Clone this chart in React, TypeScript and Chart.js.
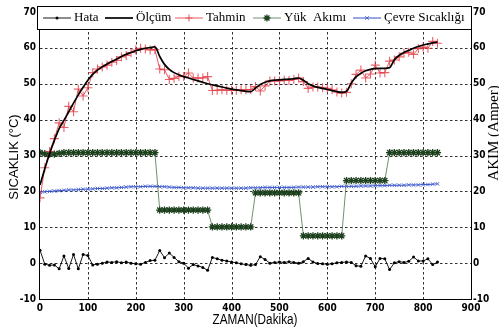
import React, { useEffect, useRef } from "react";
import { Chart, registerables } from "chart.js";

Chart.register(...registerables);

// Zaman ekseni (dakika)
const TIME = [
  0, 10, 20, 30, 40, 50, 60, 70, 80, 90,
  100, 110, 120, 130, 140, 150, 160, 170, 180, 190,
  200, 210, 220, 230, 240, 250, 260, 270, 280, 290,
  300, 310, 320, 330, 340, 350, 360, 370, 380, 390,
  400, 410, 420, 430, 440, 450, 460, 470, 480, 490,
  500, 510, 520, 530, 540, 550, 560, 570, 580, 590,
  600, 610, 620, 630, 640, 650, 660, 670, 680, 690,
  700, 710, 720, 730, 740, 750, 760, 770, 780, 790,
  800, 810, 820, 830,
];

// Ölçülen sıcaklık (°C)
const OLCUM = [
  21.8, 26.3, 30.5, 34.2, 37.5, 39.8, 42.2, 44.6, 46.9, 49.0,
  51.0, 52.6, 53.8, 54.7, 55.5, 56.2, 56.9, 57.6, 58.2, 58.7,
  59.2, 59.6, 59.9, 60.1, 60.3, 57.6, 55.4, 54.0, 53.1, 52.5,
  52.0, 51.6, 51.2, 50.8, 50.4, 50.0, 49.7, 49.4, 49.1, 48.8,
  48.5, 48.3, 48.1, 47.9, 47.8, 48.8, 49.8, 50.4, 50.8, 51.0,
  51.1, 51.2, 51.3, 51.4, 51.6, 51.0, 50.0, 49.4, 49.0, 48.7,
  48.4, 48.1, 47.8, 47.6, 47.9, 50.2, 51.9, 52.9, 53.6, 54.0,
  54.2, 54.3, 54.3, 54.5, 56.7, 57.9, 58.7, 59.3, 59.9, 60.4,
  60.8, 61.1, 61.4, 61.6,
];

// Tahmin edilen sıcaklık (°C)
const TAHMIN = [
  18.2, 26.6, 31.1, 34.7, 39.1, 37.8, 43.7, 42.2, 48.5, 46.6,
  48.9, 53.1, 54.1, 54.7, 55.2, 56.0, 56.5, 57.5, 57.9, 58.7,
  59.4, 59.9, 59.7, 59.4, 59.5, 54.1, 53.9, 51.2, 51.5, 52.1,
  52.0, 53.0, 51.6, 51.6, 51.6, 52.0, 48.1, 48.2, 48.3, 48.2,
  48.2, 48.2, 48.3, 48.3, 48.4, 49.2, 48.0, 49.4, 50.8, 50.8,
  50.8, 51.0, 50.9, 51.2, 51.6, 50.6, 48.7, 49.1, 49.1, 48.9,
  48.7, 48.3, 47.7, 47.4, 47.6, 50.0, 52.6, 53.8, 51.6, 52.7,
  55.2, 53.0, 53.1, 56.3, 56.6, 57.5, 58.5, 58.8, 58.2, 59.8,
  60.2, 59.9, 61.8, 61.3,
];

// Hata (°C)
const HATA = [
  3.6, -0.3, -0.6, -0.5, -1.6, 2.0, -1.5, 2.4, -1.6, 2.4,
  2.1, -0.5, -0.3, 0.0, 0.3, 0.2, 0.4, 0.1, 0.3, 0.0,
  -0.2, -0.3, 0.2, 0.7, 0.8, 3.5, 1.5, 2.8, 1.6, 0.4,
  0.0, -1.4, -0.4, -0.8, -1.2, -2.0, 1.6, 1.2, 0.8, 0.6,
  0.3, 0.1, -0.2, -0.4, -0.6, -0.4, 1.8, 1.0, 0.0, 0.2,
  0.3, 0.2, 0.4, 0.2, 0.0, 0.4, 1.3, 0.3, -0.1, -0.2,
  -0.3, -0.2, 0.1, 0.2, 0.3, 0.2, -0.7, -0.9, 2.0, 1.3,
  -1.0, 1.3, 1.2, -1.8, 0.1, 0.4, 0.2, 0.5, 1.7, 0.6,
  0.6, 1.2, -0.4, 0.3,
];

// Yük akımı (A)
const YUK_AKIMI = [
  30.8, 30.5, 30.4, 30.4, 30.6, 30.8, 30.8, 30.8, 30.8, 30.8,
  30.8, 30.8, 30.8, 30.8, 30.8, 30.8, 30.8, 30.8, 30.8, 30.8,
  30.8, 30.8, 30.8, 30.8, 30.8, 14.8, 14.8, 14.8, 14.8, 14.8,
  14.8, 14.8, 14.8, 14.8, 14.8, 14.8, 10.1, 10.1, 10.1, 10.1,
  10.1, 10.1, 10.1, 10.1, 10.1, 19.6, 19.6, 19.6, 19.6, 19.6,
  19.6, 19.6, 19.6, 19.6, 19.6, 7.6, 7.6, 7.6, 7.6, 7.6,
  7.6, 7.6, 7.6, 7.6, 23.0, 23.0, 23.0, 23.0, 23.0, 23.0,
  23.0, 23.0, 23.0, 30.8, 30.8, 30.8, 30.8, 30.8, 30.8, 30.8,
  30.8, 30.8, 30.8, 30.8,
];

// Çevre sıcaklığı (°C)
const CEVRE = [
  19.8, 19.9, 20.0, 20.1, 20.2, 20.3, 20.4, 20.4, 20.5, 20.6,
  20.6, 20.7, 20.8, 20.8, 20.9, 21.0, 21.0, 21.1, 21.2, 21.3,
  21.3, 21.3, 21.4, 21.4, 21.4, 21.3, 21.3, 21.2, 21.1, 21.1,
  21.0, 21.0, 21.0, 20.9, 20.9, 20.9, 20.9, 20.9, 20.9, 20.9,
  20.9, 20.9, 20.9, 20.9, 21.0, 21.0, 21.0, 21.1, 21.1, 21.1,
  21.1, 21.1, 21.1, 21.1, 21.2, 21.2, 21.2, 21.2, 21.3, 21.3,
  21.3, 21.3, 21.3, 21.4, 21.4, 21.4, 21.4, 21.5, 21.5, 21.5,
  21.6, 21.6, 21.6, 21.7, 21.7, 21.7, 21.7, 21.8, 21.8, 21.8,
  21.9, 21.9, 22.0, 22.1,
];

const SERIES_LABELS = ["Hata", "Ölçüm", "Tahmin", "Yük  Akımı", "Çevre Sıcaklığı"];

const X_RANGE = [0, 900];
const X_STEP = 100;
const Y_RANGE = [-10, 70];
const Y_STEP = 10;

const TITLE_Y_LEFT = "SICAKLIK (°C)";
const TITLE_Y_RIGHT = "AKIM (Amper)";
const TITLE_X = "ZAMAN(Dakika)";

const TICK_FONT = {
  family: '"Liberation Sans Narrow", "Arial Narrow", "DejaVu Sans Condensed", sans-serif',
  size: 10,
  weight: "bold" as const,
};
const SERIF = '"Liberation Serif", "Times New Roman", serif';
const SANS = '"Liberation Sans", Arial, sans-serif';

// legend sample start positions (px)
const LEGEND_X = [43, 105, 175, 253, 353];

function drawMarker(ctx: CanvasRenderingContext2D, style: string, x: number, y: number, r: number) {
  ctx.beginPath();
  if (style === "circle") {
    ctx.arc(x, y, r, 0, Math.PI * 2);
    ctx.fill();
    return;
  }
  if (style === "cross" || style === "star") {
    ctx.moveTo(x - r, y);
    ctx.lineTo(x + r, y);
    ctx.moveTo(x, y - r);
    ctx.lineTo(x, y + r);
  }
  if (style === "crossRot" || style === "star") {
    const d = r * Math.SQRT1_2;
    ctx.moveTo(x - d, y - d);
    ctx.lineTo(x + d, y + d);
    ctx.moveTo(x - d, y + d);
    ctx.lineTo(x + d, y - d);
  }
  ctx.stroke();
}

const gridFramePlugin = {
  id: "gridFrame",
  beforeDatasetsDraw(chart: any) {
    const { ctx, chartArea: a, scales } = chart;
    const sx = scales.x;
    const sy = scales.y;
    ctx.save();
    ctx.strokeStyle = "#1a1a1a";
    ctx.lineWidth = 0.9;
    ctx.setLineDash([2.5, 2.5]);
    sx.ticks.forEach((t: any) => {
      if (t.value <= sx.min || t.value >= sx.max) return;
      const px = Math.round(sx.getPixelForValue(t.value)) + 0.5;
      ctx.beginPath();
      ctx.moveTo(px, a.top);
      ctx.lineTo(px, a.bottom);
      ctx.stroke();
    });
    sy.ticks.forEach((t: any) => {
      if (t.value <= sy.min || t.value >= sy.max) return;
      const py = Math.round(sy.getPixelForValue(t.value)) + 0.5;
      ctx.beginPath();
      ctx.moveTo(a.left, py);
      ctx.lineTo(a.right, py);
      ctx.stroke();
    });
    ctx.setLineDash([]);
    ctx.strokeStyle = "#000";
    ctx.lineWidth = 1;
    ctx.strokeRect(Math.round(a.left) - 0.5, Math.round(a.top) + 0.5, Math.round(a.right - a.left) + 1, Math.round(a.bottom - a.top));
    ctx.restore();
  },
};

const overlayPlugin = {
  id: "overlay",
  afterDraw(chart: any) {
    const ctx: CanvasRenderingContext2D = chart.ctx;
    ctx.save();
    ctx.setLineDash([]);

    // legend box
    ctx.fillStyle = "#fff";
    ctx.fillRect(37, 6, 434, 23);
    ctx.strokeStyle = "#000";
    ctx.lineWidth = 1;
    ctx.strokeRect(37.5, 6.5, 434, 23);

    const cy = 18;
    chart.data.datasets.forEach((ds: any, i: number) => {
      const x0 = LEGEND_X[i];
      ctx.strokeStyle = ds.borderColor;
      ctx.lineWidth = ds.borderWidth;
      ctx.beginPath();
      ctx.moveTo(x0, cy);
      ctx.lineTo(x0 + 28, cy);
      ctx.stroke();
      if (ds.pointRadius > 0) {
        ctx.strokeStyle = ds.pointBorderColor;
        ctx.fillStyle = ds.pointBackgroundColor;
        ctx.lineWidth = ds.pointBorderWidth || 1;
        drawMarker(ctx, ds.pointStyle, x0 + 14, cy, Math.min(ds.pointRadius, 3.5));
      }
      ctx.fillStyle = "#000";
      ctx.font = `13px ${SERIF}`;
      ctx.textAlign = "left";
      ctx.textBaseline = "middle";
      ctx.fillText(ds.label, x0 + 31, cy);
    });

    // axis titles
    ctx.fillStyle = "#000";
    ctx.textAlign = "center";
    ctx.textBaseline = "middle";

    ctx.save();
    ctx.translate(14, 157);
    ctx.rotate(-Math.PI / 2);
    ctx.font = `13px ${SANS}`;
    ctx.fillText(TITLE_Y_LEFT, 0, 0);
    ctx.restore();

    ctx.save();
    ctx.translate(494, 133);
    ctx.rotate(-Math.PI / 2);
    ctx.font = `15px ${SERIF}`;
    ctx.fillText(TITLE_Y_RIGHT, 0, 0);
    ctx.restore();

    ctx.save();
    ctx.translate(255, 320);
    ctx.scale(0.84, 1);
    ctx.font = `14px ${SANS}`;
    ctx.fillText(TITLE_X, 0, 0);
    ctx.restore();

    ctx.restore();
  },
};

export default function App() {
  const ref = useRef<HTMLCanvasElement>(null);

  useEffect(() => {
    const canvas = ref.current;
    if (!canvas) return;
    const pts = (vals: number[]) => TIME.map((t, i) => ({ x: t, y: vals[i] }));

    const hiddenGrid = { display: false, drawTicks: false };
    const chart = new Chart(canvas, {
      type: "line",
      data: {
        datasets: [
          {
            label: SERIES_LABELS[0],
            data: pts(HATA),
            borderColor: "#000",
            borderWidth: 0.9,
            pointStyle: "circle",
            pointRadius: 1.5,
            pointBackgroundColor: "#000",
            pointBorderColor: "#000",
            pointBorderWidth: 0,
            order: 1,
          },
          {
            label: SERIES_LABELS[1],
            data: pts(OLCUM),
            borderColor: "#000",
            borderWidth: 1.7,
            pointRadius: 0,
            cubicInterpolationMode: "monotone",
            order: 0,
          },
          {
            label: SERIES_LABELS[2],
            data: pts(TAHMIN),
            borderColor: "rgba(222,40,50,0.85)",
            borderWidth: 0.9,
            pointStyle: "cross",
            pointRadius: 4.5,
            pointBackgroundColor: "rgba(228,60,70,0.8)",
            pointBorderColor: "rgba(228,60,70,0.8)",
            pointBorderWidth: 1.1,
            order: 2,
          },
          {
            label: SERIES_LABELS[3],
            data: pts(YUK_AKIMI),
            borderColor: "rgba(80,115,80,0.8)",
            borderWidth: 1,
            pointStyle: "star",
            pointRadius: 3.6,
            pointBackgroundColor: "#1c3f1c",
            pointBorderColor: "#1c3f1c",
            pointBorderWidth: 1.3,
            order: 3,
          },
          {
            label: SERIES_LABELS[4],
            data: pts(CEVRE),
            borderColor: "#3350c8",
            borderWidth: 1,
            pointStyle: "crossRot",
            pointRadius: 2.5,
            pointBackgroundColor: "#4a66d4",
            pointBorderColor: "#4a66d4",
            pointBorderWidth: 1,
            order: 4,
          },
        ],
      },
      options: {
        animation: false,
        responsive: false,
        devicePixelRatio: 1,
        layout: { padding: { top: 12, left: 0, right: 0, bottom: 0 } },
        plugins: { legend: { display: false }, tooltip: { enabled: false } },
        scales: {
          x: {
            type: "linear",
            min: X_RANGE[0],
            max: X_RANGE[1],
            ticks: { stepSize: X_STEP, font: TICK_FONT, color: "#000", padding: 3, maxRotation: 0, autoSkip: false },
            grid: hiddenGrid,
            border: { display: false },
            afterFit: (s: any) => {
              s.height = 32;
            },
          },
          y: {
            type: "linear",
            position: "left",
            min: Y_RANGE[0],
            max: Y_RANGE[1],
            ticks: { stepSize: Y_STEP, font: TICK_FONT, color: "#000", padding: 4 },
            grid: hiddenGrid,
            border: { display: false },
            afterFit: (s: any) => {
              s.width = 40;
            },
          },
          y2: {
            type: "linear",
            position: "right",
            min: Y_RANGE[0],
            max: Y_RANGE[1],
            ticks: { stepSize: Y_STEP, font: TICK_FONT, color: "#000", padding: 2 },
            grid: hiddenGrid,
            border: { display: false },
            afterFit: (s: any) => {
              s.width = 28;
            },
          },
        },
      } as any,
      plugins: [gridFramePlugin, overlayPlugin],
    });
    return () => chart.destroy();
  }, []);

  return (
    <div style={{ position: "absolute", left: 0, top: 0, width: 499, height: 331, background: "#fff" }}>
      <canvas ref={ref} width={499} height={331} style={{ display: "block" }} />
    </div>
  );
}
